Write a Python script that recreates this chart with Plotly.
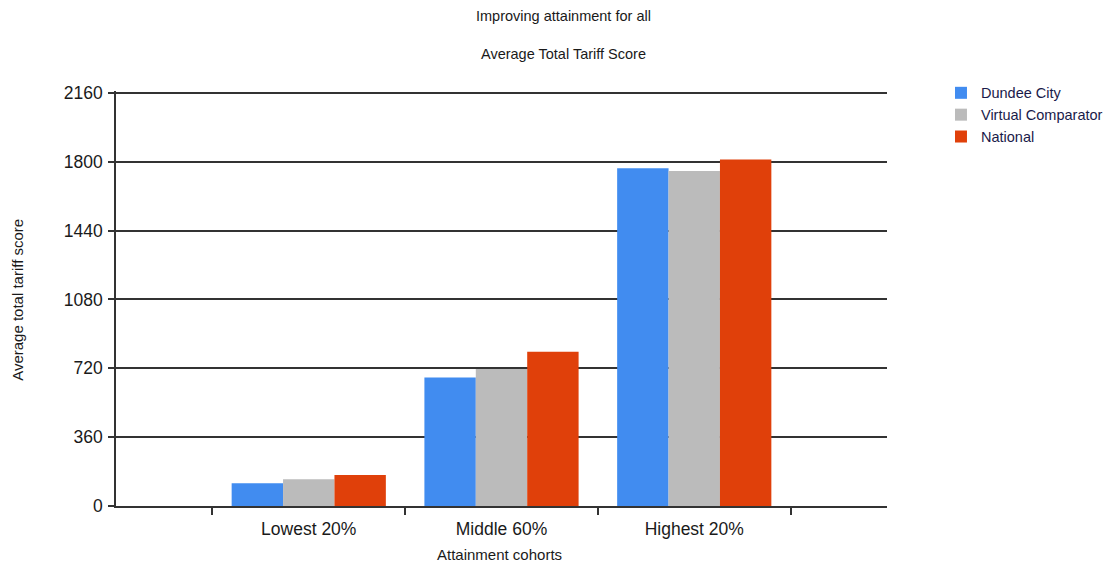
import plotly.graph_objs as go

# values
cohorts = ["Lowest 20%", "Middle 60%", "Highest 20%"]
dundee = [119, 672, 1766]
comparator = [140, 716, 1752]
national = [162, 806, 1812]

y_ticks = [0, 360, 720, 1080, 1440, 1800, 2160]

FONT = "Liberation Sans"
TXT = "#1a1a1a"

fig = go.Figure()
fig.add_trace(go.Bar(x=cohorts, y=dundee, name="Dundee City", marker=dict(color="#418CF0", line=dict(width=0))))
fig.add_trace(go.Bar(x=cohorts, y=comparator, name="Virtual Comparator", marker=dict(color="#BBBBBB", line=dict(width=0))))
fig.add_trace(go.Bar(x=cohorts, y=national, name="National", marker=dict(color="#E0400A", line=dict(width=0))))

# page body adds ~8px offset, so figure is a bit smaller than the window
fig.update_layout(
	width=1108, height=556,
	margin=dict(l=108, r=229, t=83, b=58, autoexpand=False),
	paper_bgcolor="white", plot_bgcolor="white",
	barmode="group", bargap=0.2, bargroupgap=0,
	font=dict(family=FONT, color=TXT),
	showlegend=True,
	legend=dict(x=1.070, y=1.034, xanchor="left", yanchor="top",
		font=dict(size=14.5, color="#1a1a4a"), tracegroupgap=0, itemwidth=30),
	annotations=[
		dict(text="Improving attainment for all", xref="paper", yref="paper", x=0.580, y=1.180,
			yanchor="middle", showarrow=False, font=dict(size=14.5)),
		dict(text="Average Total Tariff Score", xref="paper", yref="paper", x=0.580, y=1.089,
			yanchor="middle", showarrow=False, font=dict(size=14.5)),
		dict(text="Attainment cohorts", xref="paper", yref="paper", x=0.498, y=-0.118,
			xanchor="center", yanchor="middle", showarrow=False, font=dict(size=15)),
		dict(text="Average total tariff score", xref="paper", yref="paper", x=-0.127, y=0.497,
			xanchor="center", yanchor="middle", textangle=-90, showarrow=False, font=dict(size=15)),
	],
)

fig.update_xaxes(
	type="category", range=[-1, 3], automargin=False,
	showline=True, linecolor="#333333", linewidth=1.5,
	ticks="outside", tickson="boundaries", ticklen=7, tickcolor="#333333", tickwidth=1.5,
	ticklabelstandoff=6,
	showgrid=False, tickfont=dict(size=17.5, color=TXT),
)
# range a bit above 2160 so the top grid line is still drawn
fig.update_yaxes(
	range=[0, 2170], tickvals=y_ticks, automargin=False,
	showline=True, linecolor="#333333", linewidth=1.5,
	ticks="outside", ticklen=6, tickcolor="#333333", tickwidth=1.5,
	ticklabelstandoff=2,
	showgrid=True, gridcolor="#333333", gridwidth=1.5, zeroline=False,
	tickfont=dict(size=17.5, color=TXT),
)

fig.write_html("out.html")
